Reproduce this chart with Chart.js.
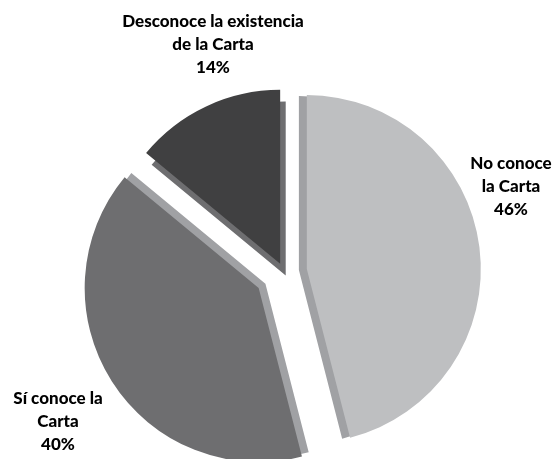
<!DOCTYPE html>
<html>
<head>
<meta charset="utf-8">
<script src="https://cdn.jsdelivr.net/npm/chart.js@4.4.1/dist/chart.umd.min.js"></script>
<style>
    html, body { margin: 0; padding: 0; background: #fff; }
    #wrap { width: 555px; height: 459px; position: relative; }
</style>
</head>
<body>
<div id="wrap"><canvas id="pieChart"></canvas></div>
<script>
const categories = ['No conoce la Carta', 'Sí conoce la Carta', 'Desconoce la existencia de la Carta'];
const percentages = [46, 40, 14];
const labelLines = [
    ['No conoce', 'la Carta'],
    ['Sí conoce la', 'Carta'],
    ['Desconoce la existencia', 'de la Carta']
];

const faceColors = ['#BEBFC1', '#6E6E70', '#404041'];
const sideColors = ['#A0A1A4', '#A0A1A4', '#6E6E70'];
const explode = [23, 30, 9];    // how far each slice is pulled out
const depth = [8, 8, 13];       // thickness of the visible side
const labelAnchors = [[511, 187], [58, 422], [213, 45]];

// draws the side of every slice first, then the slice itself, pulled out
const explodedPie = {
    id: 'explodedPie',
    beforeDatasetDraw: function(chart, args) {
        const ctx = chart.ctx;
        const arcs = args.meta.data;

        arcs.forEach(function(arc, i) {
            const mid = (arc.startAngle + arc.endAngle) / 2;
            const d = explode[i] - depth[i];
            const side = Object.create(arc);
            side.options = Object.assign({}, arc.options, { backgroundColor: sideColors[i] });
            ctx.save();
            ctx.translate(Math.cos(mid) * d, Math.sin(mid) * d);
            side.draw(ctx);
            ctx.restore();
        });

        arcs.forEach(function(arc, i) {
            const mid = (arc.startAngle + arc.endAngle) / 2;
            ctx.save();
            ctx.translate(Math.cos(mid) * explode[i], Math.sin(mid) * explode[i]);
            arc.draw(ctx);
            ctx.restore();
        });

        return false;
    },
    afterDatasetsDraw: function(chart) {
        const ctx = chart.ctx;
        ctx.save();
        ctx.font = '900 17px Lato';
        ctx.fillStyle = '#000000';
        ctx.textAlign = 'center';
        ctx.textBaseline = 'middle';
        labelLines.forEach(function(lines, i) {
            const rows = lines.concat([percentages[i] + '%']);
            rows.forEach(function(text, j) {
                ctx.fillText(text, labelAnchors[i][0], labelAnchors[i][1] + (j - 1) * 23);
            });
        });
        ctx.restore();
    }
};

const ctx = document.getElementById('pieChart').getContext('2d');
const pieChart = new Chart(ctx, {
    type: 'pie',
    data: {
        labels: categories,
        datasets: [{
            data: percentages,
            backgroundColor: faceColors,
            borderWidth: 0
        }]
    },
    options: {
        responsive: true,
        maintainAspectRatio: false,
        animation: false,
        events: [],
        radius: 174,
        layout: {
            padding: { left: 13, right: 0, top: 85, bottom: 0 }
        },
        plugins: {
            legend: { display: false },
            tooltip: { enabled: false },
            title: { display: false }
        }
    },
    plugins: [explodedPie]
});
</script>
</body>
</html>
